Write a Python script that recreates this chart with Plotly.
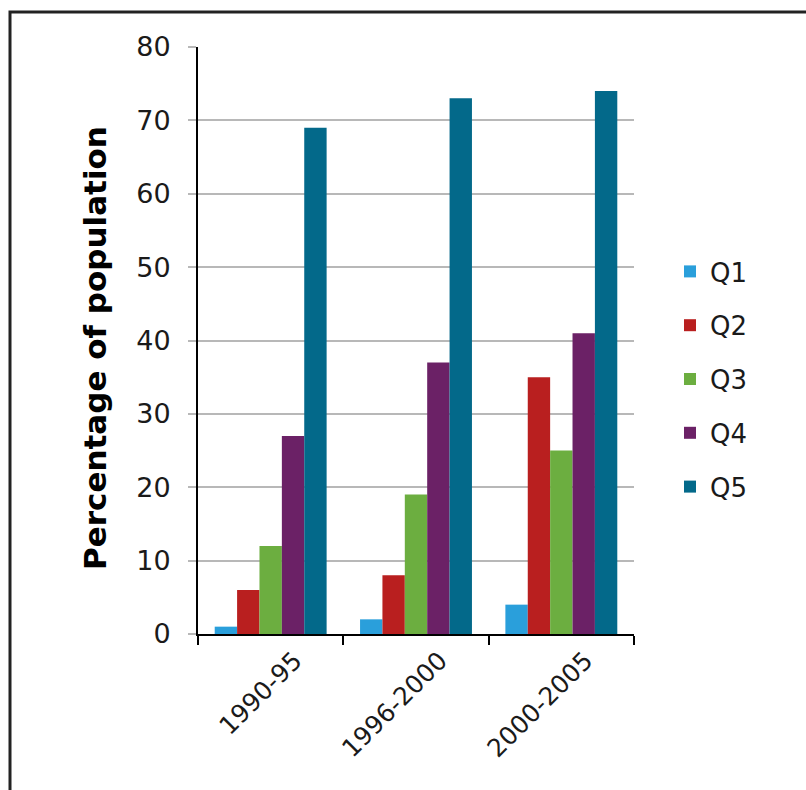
import plotly.graph_objects as go

periods = ["1990-95", "1996-2000", "2000-2005"]
quintiles = ["Q1", "Q2", "Q3", "Q4", "Q5"]
q1 = [1, 2, 4]
q2 = [6, 8, 35]
q3 = [12, 19, 25]
q4 = [27, 37, 41]
q5 = [69, 73, 74]
colors = ["#2a9fdb", "#b91f1f", "#6cae40", "#6b2166", "#03698a"]
y_ticks = [0, 10, 20, 30, 40, 50, 60, 70, 80]

FONT = "DejaVu Sans"
series = [q1, q2, q3, q4, q5]

fig = go.Figure()
for name, vals, col in zip(quintiles, series, colors):
    fig.add_trace(go.Bar(
        x=periods, y=vals, name=name, marker_color=col,
        marker_line_width=0, legendgroup=name,
    ))

# plot-area geometry in pixels
W, H = 806, 790
L, R, T, B = 198, 172, 47, 156
pw, ph = W - L - R, H - T - B

def px_x(x):
    return (x - L) / pw

def px_y(y):
    return (H - B - y) / ph

fig.update_layout(
    width=W, height=H,
    margin=dict(l=L, r=R, t=T, b=B, pad=0),
    paper_bgcolor="white", plot_bgcolor="white",
    barmode="group", bargap=0.23, bargroupgap=0,
    font=dict(family=FONT, color="#1a1a1a"),
    showlegend=True,
    legend=dict(
        x=px_x(670), y=px_y(248), xanchor="left", yanchor="top",
        font=dict(size=26, family=FONT, color="#1a1a1a"),
        traceorder="grouped", tracegroupgap=17,
        itemwidth=30, bgcolor="rgba(0,0,0,0)",
    ),
    xaxis=dict(
        type="category", tickson="boundaries",
        ticks="outside", ticklen=9, tickwidth=2, tickcolor="black",
        showline=True, linecolor="black", linewidth=2,
        tickangle=-45, tickfont=dict(size=25, family=FONT, color="#1a1a1a"),
        ticklabelshift=24,
        showgrid=False,
    ),
    yaxis=dict(
        range=[0, 80], tickvals=y_ticks,
        ticks="outside", ticklen=8, tickwidth=2, tickcolor="#b8b8b8",
        showgrid=True, gridcolor="#b8b8b8", gridwidth=2,
        showline=True, linecolor="black", linewidth=2,
        zeroline=False,
        tickfont=dict(size=27, family=FONT, color="#1a1a1a"),
        ticklabelstandoff=12,
    ),
    annotations=[dict(
        text="<b>Percentage of population</b>", textangle=-90,
        xref="paper", yref="paper", x=px_x(95), y=px_y(348),
        xanchor="center", yanchor="middle", showarrow=False,
        font=dict(size=31, family=FONT, color="black"),
    )],
    shapes=[dict(
        type="rect", xref="paper", yref="paper",
        x0=px_x(10), x1=px_x(830), y0=px_y(12), y1=px_y(820),
        line=dict(color="#222222", width=3), fillcolor="rgba(0,0,0,0)",
        layer="below",
    )],
)

fig.write_html("out.html")
